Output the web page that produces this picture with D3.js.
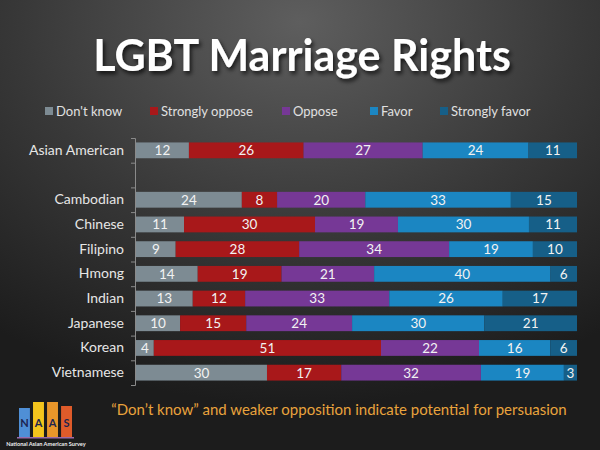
<!DOCTYPE html>
<html>
<head>
<meta charset="utf-8">
<script src="https://cdn.jsdelivr.net/npm/d3@7"></script>
<style>
  body { margin: 0; background: #2b2b2b; }
  svg { display: block; font-family: Lato, "Open Sans", sans-serif; }
</style>
</head>
<body>
<svg id="chart"></svg>
<script>
// Data
const groups = ['Asian American', ' ', 'Cambodian', 'Chinese', 'Filipino', 'Hmong',
    'Indian', 'Japanese', 'Korean', 'Vietnamese'];
const answers = ["Don't know", 'Strongly oppose', 'Oppose', 'Favor', 'Strongly favor'];
const dontKnow       = [12, 0, 24, 11,  9, 14, 13, 10,  4, 30];
const stronglyOppose = [26, 0,  8, 30, 28, 19, 12, 15, 51, 17];
const oppose         = [27, 0, 20, 19, 34, 21, 33, 24, 22, 32];
const favor          = [24, 0, 33, 30, 19, 40, 26, 30, 16, 19];
const stronglyFavor  = [11, 0, 15, 11, 10,  6, 17, 21,  6,  3];
const colors = ['#7d8b93', '#a8181a', '#763896', '#1b86c2', '#165f88'];

const title = 'LGBT Marriage Rights';
const note = '\u201cDon\u2019t know\u201d and weaker opposition indicate potential for persuasion';

const svgWidth = 600;
const svgHeight = 450;

const svg = d3.select('#chart')
    .attr('width', svgWidth)
    .attr('height', svgHeight);

// Background
const defs = svg.append('defs');
const bg = defs.append('radialGradient')
    .attr('id', 'bg')
    .attr('cx', '50%').attr('cy', '5%').attr('r', '85%');
bg.append('stop').attr('offset', '0%').attr('stop-color', '#5e5e5e');
bg.append('stop').attr('offset', '55%').attr('stop-color', '#383838');
bg.append('stop').attr('offset', '100%').attr('stop-color', '#1c1c1c');

const shadow = defs.append('filter').attr('id', 'shadow')
    .attr('x', '-10%').attr('y', '-20%').attr('width', '120%').attr('height', '150%');
shadow.append('feDropShadow')
    .attr('dx', 2).attr('dy', 3).attr('stdDeviation', 2)
    .attr('flood-color', '#000').attr('flood-opacity', 0.7);

svg.append('rect')
    .attr('width', svgWidth)
    .attr('height', svgHeight)
    .attr('fill', 'url(#bg)');

// Title
svg.append('text')
    .attr('x', 302)
    .attr('y', 71)
    .attr('text-anchor', 'middle')
    .attr('fill', '#fff')
    .attr('font-size', 43)
    .attr('font-weight', 'bold')
    .attr('filter', 'url(#shadow)')
    .text(title);

// Rows for stacking
const rows = groups.map((g, i) => ({
    group: g,
    [answers[0]]: dontKnow[i],
    [answers[1]]: stronglyOppose[i],
    [answers[2]]: oppose[i],
    [answers[3]]: favor[i],
    [answers[4]]: stronglyFavor[i]
}));

const stack = d3.stack()
    .keys(answers)
    .offset(d3.stackOffsetExpand);
const series = stack(rows.filter(r => r.group.trim() !== ''));

// Scales
const xScale = d3.scaleLinear()
    .domain([0, 1])
    .range([136, 577]);

const yScale = d3.scaleBand()
    .domain(groups)
    .range([138, 385])
    .paddingInner(0.36)
    .paddingOuter(0.18);

const color = d3.scaleOrdinal()
    .domain(answers)
    .range(colors);

// Bars
const layer = svg.selectAll('.layer')
    .data(series)
    .enter()
    .append('g')
    .attr('class', 'layer')
    .attr('fill', d => color(d.key));

layer.selectAll('rect')
    .data(d => d)
    .enter()
    .append('rect')
    .attr('x', d => xScale(d[0]))
    .attr('y', d => yScale(d.data.group))
    .attr('width', d => xScale(d[1]) - xScale(d[0]))
    .attr('height', yScale.bandwidth());

// Value labels
series.forEach(s => {
    svg.selectAll(null)
        .data(s)
        .enter()
        .append('text')
        .attr('x', d => (xScale(d[0]) + xScale(d[1])) / 2)
        .attr('y', d => yScale(d.data.group) + yScale.bandwidth() / 2)
        .attr('dy', '0.36em')
        .attr('text-anchor', 'middle')
        .attr('fill', '#f2f2f2')
        .attr('font-size', 13.5)
        .text(d => d.data[s.key]);
});

// Y axis: labels
const yAxis = svg.append('g')
    .attr('transform', 'translate(135, 0)')
    .call(d3.axisLeft(yScale).tickSize(0).tickPadding(11));
yAxis.select('.domain').remove();
yAxis.selectAll('text')
    .attr('fill', '#e6e6e6')
    .attr('font-size', 14)
    .attr('font-family', 'Lato, sans-serif');

// Y axis: line with ticks between categories
const tickScale = d3.scaleLinear()
    .domain([0, groups.length])
    .range([yScale.range()[0], yScale.range()[1]]);
const tickAxis = svg.append('g')
    .attr('transform', 'translate(135, 0)')
    .call(d3.axisLeft(tickScale).ticks(groups.length).tickSize(4).tickSizeOuter(4).tickFormat(''));
tickAxis.selectAll('path, line').attr('stroke', '#8a8a8a');

// Legend
const legendX = [45, 150, 282, 370, 440];
const legend = svg.selectAll('.legend')
    .data(answers)
    .enter()
    .append('g')
    .attr('class', 'legend')
    .attr('transform', (d, i) => `translate(${legendX[i]}, 111)`);

legend.append('rect')
    .attr('x', 0)
    .attr('y', -4)
    .attr('width', 8)
    .attr('height', 8)
    .attr('fill', d => color(d));

legend.append('text')
    .attr('x', 11)
    .attr('dy', '0.35em')
    .attr('fill', '#e0e0e0')
    .attr('font-size', 13)
    .text(d => d);

// Note
svg.append('text')
    .attr('x', 339)
    .attr('y', 415)
    .attr('text-anchor', 'middle')
    .attr('fill', '#e9a33c')
    .attr('font-size', 15)
    .text(note);

// Logo
const logoLetters = ['N', 'A', 'A', 'S'];
const logoColors = ['#4f8fd6', '#f4c51d', '#e8962a', '#df5b2a'];
const logoTops = [408, 402, 402, 406];
const logoX = d3.scaleBand().domain(d3.range(4)).range([19, 72]).paddingInner(0.22);
const logo = svg.append('g');
logo.selectAll('rect')
    .data(logoLetters)
    .enter()
    .append('rect')
    .attr('x', (d, i) => logoX(i))
    .attr('y', (d, i) => logoTops[i])
    .attr('width', logoX.bandwidth())
    .attr('height', (d, i) => 437 - logoTops[i])
    .attr('fill', (d, i) => logoColors[i]);
logo.selectAll('text')
    .data(logoLetters)
    .enter()
    .append('text')
    .attr('x', (d, i) => logoX(i) + logoX.bandwidth() / 2)
    .attr('y', 427)
    .attr('text-anchor', 'middle')
    .attr('fill', '#1d2450')
    .attr('font-size', 11)
    .attr('font-weight', 'bold')
    .text(d => d);
logo.append('rect')
    .attr('x', 17).attr('y', 437).attr('width', 57).attr('height', 1.5)
    .attr('fill', '#9a6aa8');
logo.append('text')
    .attr('x', 46)
    .attr('y', 446)
    .attr('text-anchor', 'middle')
    .attr('fill', '#f0f0f0')
    .attr('font-size', 5.6)
    .attr('font-weight', 'bold')
    .text('National Asian American Survey');
</script>
</body>
</html>
